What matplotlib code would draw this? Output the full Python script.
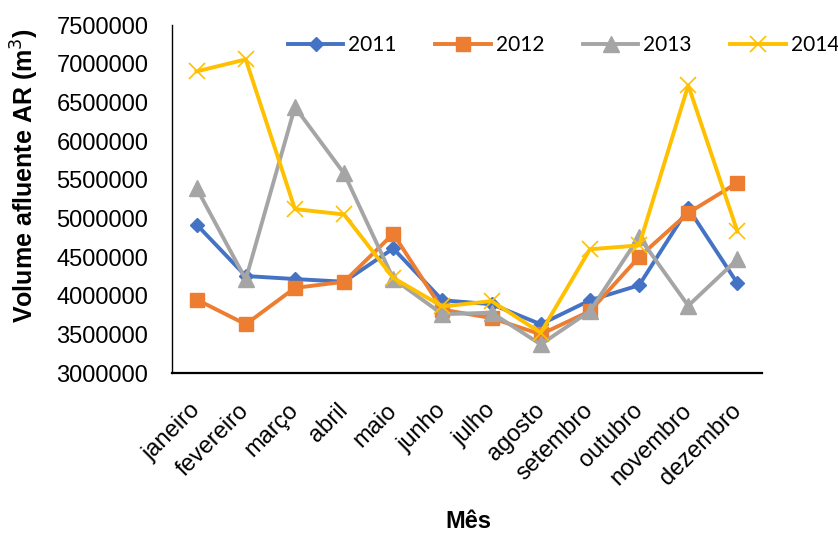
import matplotlib
matplotlib.use("Agg")
import matplotlib.pyplot as plt
import matplotlib.transforms as mtransforms

months = ["janeiro", "fevereiro", "março", "abril", "maio", "junho",
          "julho", "agosto", "setembro", "outubro", "novembro", "dezembro"]

v2011 = [4920000, 4254000, 4215000, 4180000, 4610000, 3940000,
         3890000, 3630000, 3940000, 4135000, 5130000, 4160000]
v2012 = [3950000, 3630000, 4100000, 4180000, 4800000, 3820000,
         3710000, 3500000, 3800000, 4500000, 5070000, 5460000]
v2013 = [5390000, 4210000, 6440000, 5580000, 4220000, 3760000,
         3780000, 3370000, 3800000, 4760000, 3870000, 4470000]
v2014 = [6900000, 7055000, 5120000, 5050000, 4230000, 3860000,
         3930000, 3520000, 4600000, 4650000, 6720000, 4830000]

yticks = [3000000, 3500000, 4000000, 4500000, 5000000, 5500000,
          6000000, 6500000, 7000000, 7500000]

series = [
    ("2011", v2011, "#4472C4", dict(marker="D", markersize=7.5)),
    ("2012", v2012, "#ED7D31", dict(marker="s", markersize=10)),
    ("2013", v2013, "#A5A5A5", dict(marker="^", markersize=11)),
    ("2014", v2014, "#FFC000", dict(marker="x", markersize=11, markeredgewidth=1.2)),
]

W, H = 838, 533
fig = plt.figure(figsize=(W / 100, H / 100), dpi=100)
ax = fig.add_axes([172 / W, 1 - 373 / H, (762 - 172) / W, (373 - 25) / H])

x = list(range(len(months)))
for name, vals, color, mk in series:
    ax.plot(x, vals, color=color, linewidth=2.8, label=name,
            markerfacecolor=color, markeredgecolor=color, **mk)

ax.set_xlim(-0.5, len(months) - 0.5)
ax.set_ylim(3000000, 7500000)
ax.set_yticks(yticks)
ax.set_yticklabels([str(t) for t in yticks], fontfamily="Liberation Sans",
                   fontsize=17)
ax.set_xticks(x)
ax.set_xticklabels(months, rotation=45, ha="right", fontfamily="Liberation Sans",
                   fontsize=17)
ax.tick_params(axis="both", length=0)
ax.tick_params(axis="y", pad=17)
ax.tick_params(axis="x", pad=19)
offset = mtransforms.ScaledTranslation(8 / 100, 0, fig.dpi_scale_trans)
for lab in ax.get_xticklabels():
    lab.set_transform(lab.get_transform() + offset)

for side in ("top", "right"):
    ax.spines[side].set_visible(False)
ax.spines["left"].set_linewidth(1.0)
ax.spines["bottom"].set_linewidth(1.6)
ax.spines["left"].set_color("#000000")
ax.spines["bottom"].set_color("#000000")

fig.text(25 / W, 1 - 176 / H, "Volume afluente AR (m$^3$)", rotation=90,
         ha="center", va="center", fontfamily="Liberation Sans",
         fontweight="bold", fontsize=18)
fig.text(468 / W, 1 - 521 / H, "Mês", ha="center", va="center",
         fontfamily="Liberation Sans", fontweight="bold", fontsize=17)

leg = fig.legend(loc="center left", bbox_to_anchor=(288 / W, 1 - 45 / H),
                 ncol=4, frameon=False, prop={"family": "Lato", "size": 15},
                 handlelength=2.65, handletextpad=0.25, columnspacing=1.85,
                 borderaxespad=0, borderpad=0)

fig.savefig("out.png", dpi=100)
